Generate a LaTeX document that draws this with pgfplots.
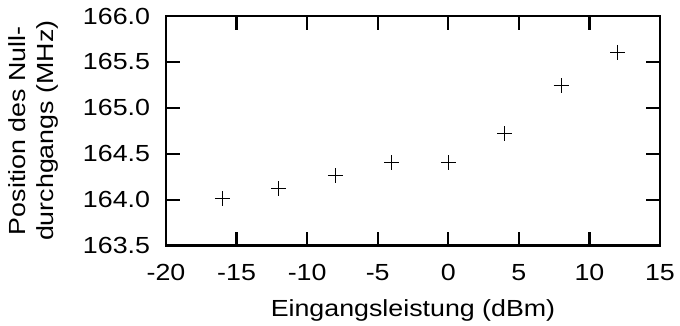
\documentclass[border=0pt]{standalone}
\usepackage{fontspec}
\setmainfont{Liberation Sans}[FakeStretch=1.15]
\usepackage{pgfplots}
\pgfplotsset{compat=1.18}
\begin{document}
\fontsize{23.3bp}{28bp}\selectfont
\begin{tikzpicture}
\begin{axis}[
  name=ax,
  scale only axis,
  width=494bp, height=229.5bp,
  xmin=-20, xmax=15, ymin=163.5, ymax=166.0,
  xtick={-20,-15,...,15},
  ytick={163.5,164.0,...,166.0},
  /pgf/number format/assume math mode=true,
  y tick label style={xshift=-8bp, /pgf/number format/fixed, /pgf/number format/fixed zerofill, /pgf/number format/precision=1},
  xticklabel style={anchor=base, yshift=-34.5bp},
  tick align=inside,
  major tick length=14bp,
  every tick/.style={line width=2.2bp, black},
  axis line style={line width=2.3bp},
  xlabel={Eingangsleistung (dBm)},
  xlabel style={at={(axis description cs:0.5,-0.308)}, anchor=base},
  ylabel={Position des Null-\\durchgangs (MHz)},
  ylabel style={at={(axis description cs:-0.269,0.5)}, anchor=center, align=center},
]
\addplot[only marks, mark=+, mark size=7.5bp, mark options={line width=1.1bp, black}] coordinates {
  (-16,164.01) (-12,164.12) (-8,164.26) (-4,164.40) (0,164.40) (4,164.72) (8,165.24) (12,165.605)
};
\end{axis}
\pgfresetboundingbox
\path ([shift={(-166bp,-80.5bp)}]ax.south west) rectangle ([shift={(20bp,16bp)}]ax.north east);
\end{tikzpicture}
\end{document}
